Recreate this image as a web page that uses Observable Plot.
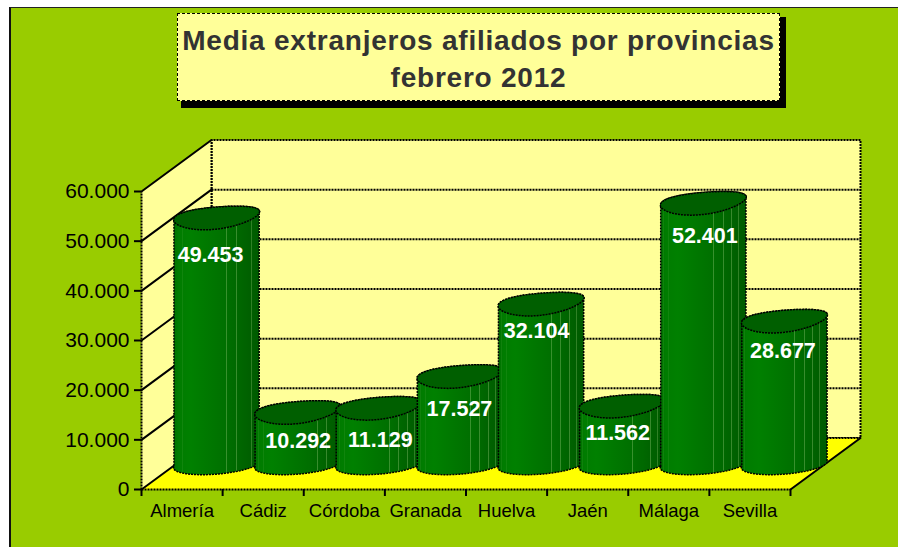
<!DOCTYPE html>
<html lang="es">
<head>
<meta charset="utf-8">
<script src="https://cdn.jsdelivr.net/npm/d3@7"></script>
<script src="https://cdn.jsdelivr.net/npm/@observablehq/plot@0.6"></script>
<style>
  html, body { margin: 0; padding: 0; background: #fff; }
  #page { position: relative; width: 898px; height: 547px; overflow: hidden; font-family: "Liberation Sans", Arial, sans-serif; }
  #panel { position: absolute; left: 9px; top: 6.5px; width: 900px; height: 560px; box-sizing: border-box; background: #99cc00; border-left: 2.5px solid #111; border-top: 1.5px solid #222; }
  #shadow { position: absolute; left: 181px; top: 17px; width: 605px; height: 91px; background: #000; }
  #title { position: absolute; left: 177px; top: 13px; width: 603px; height: 88px; box-sizing: border-box; background: #ffff99; border: 1.5px dashed #000;
           color: #333; font-weight: bold; font-size: 28px; line-height: 37px; text-align: center; padding-top: 8px; white-space: nowrap; letter-spacing: 0.77px; }
  #chart { position: absolute; left: 0; top: 0; }
  #chart svg { background: transparent; display: block; }
</style>
</head>
<body>
<div id="page">
  <div id="panel"></div>
  <div id="shadow"></div>
  <div id="title">Media extranjeros afiliados por provincias<br>febrero 2012</div>
  <div id="chart"></div>
</div>
<script>
const categories = ["Almería", "Cádiz", "Córdoba", "Granada", "Huelva", "Jaén", "Málaga", "Sevilla"];
const values = [49453, 10292, 11129, 17527, 32104, 11562, 52401, 28677];
const valueTicks = [0, 10000, 20000, 30000, 40000, 50000, 60000];
// small per-label nudges (px) of the value labels, as placed in the reference
const labelNudgeX = [-6.5, 0, 1, -1, -5, -5, 1, -2];
const labelNudgeY = [11.6, 3, 6, 7, 1.5, 1.4, 7, 4.4];

const width = 898, height = 547;
const margin = {left: 141, right: 108, top: 191, bottom: 58};
const unitX = (width - margin.left - margin.right) / categories.length; // px per category
const unitY = (height - margin.top - margin.bottom) / 60000;            // px per value unit
const depthX = 70 / unitX;      // depth of the box, in category units
const depthY = 51.5 / unitY;    // depth of the box, in value units

const esNumber = v => String(v).replace(/\B(?=(\d{3})+$)/g, ".");
const project = (x, y, depth = 0) => ({x: x + depth * depthX, y: y + depth * depthY});

const nCat = categories.length, yMax = 60000;
const leftWall = [project(0, 0), project(0, yMax), project(0, yMax, 1), project(0, 0, 1)];
const floor = [project(0, 0), project(nCat, 0), project(nCat, 0, 1), project(0, 0, 1)];
const backWall = [project(0, 0, 1), project(0, yMax, 1), project(nCat, yMax, 1), project(nCat, 0, 1)];

const steps = 48;
const sweep = (from, to) => d3.range(steps + 1).map(k => from + (to - from) * k / steps);
const ring = (i, value, t, upFn) => {
  const cx = i + 0.5 + depthX / 2;
  return {x: cx + (-0.5 + 42.6 * Math.cos(t) + 6 * Math.sin(t)) / unitX, y: value + depthY / 2 + upFn(t) / unitY};
};
const topUp = t => 1.25 + 1.25 * Math.cos(2 * t) + 11.5 * Math.sin(t) + 2.5 * Math.cos(t);
const baseUp = t => -0.75 + 10 * Math.sin(t) + 2 * Math.cos(t);
const capOutline = (i, v) => sweep(0, 2 * Math.PI).slice(0, -1).map(t => ring(i, v, t, topUp));
const bodyOutline = (i, v) => [
  ...sweep(Math.PI, 2 * Math.PI).map(t => ring(i, 0, t, baseUp)),
  ...sweep(0, Math.PI).map(t => ring(i, v, t, topUp))
];

const dash = "2,1";
const ink = "#000";

function gradient() {
  const g = document.createElementNS("http://www.w3.org/2000/svg", "g");
  const stripes = [[0.04, 0.1], [0.1, 0.1], [0.62, 0.35], [0.73, 0.35], [0.83, 0.35], [0.91, 0.3]];
  const base = [[0, "#007000"], [0.06, "#007c00"], [0.2, "#008000"], [0.4, "#007800"], [0.6, "#007000"], [0.75, "#006800"], [0.88, "#006000"], [1, "#005a00"]];
  const colorAt = d3.scaleLinear().domain(base.map(d => d[0])).range(base.map(d => d[1]));
  let stops = base.map(([o, c]) => [o, c]);
  for (const [s, a] of stripes) {
    const c = d3.interpolateRgb(colorAt(s), "#a0d080")(a);
    stops.push([s - 0.005, colorAt(s - 0.005)], [s - 0.005, c], [s + 0.005, c], [s + 0.005, colorAt(s + 0.005)]);
  }
  stops = stops.map((d, k) => [...d, k]).sort((a, b) => a[0] - b[0] || a[2] - b[2]);
  g.innerHTML = `<defs><linearGradient id="cyl" x1="0" x2="1" y1="0" y2="0">${stops.map(s => `<stop offset="${s[0]}" stop-color="${d3.color(s[1]).formatHex()}"/>`).join("")}</linearGradient></defs>`;
  return g;
}

const butt = {strokeLinecap: "butt", strokeLinejoin: "miter"};
const solidLine = (pts, extra = {}) => Plot.line(pts, {x: "x", y: "y", stroke: ink, strokeWidth: 2, ...extra});
const dashLine = (pts, extra = {}) => Plot.line(pts, {x: "x", y: "y", stroke: ink, strokeWidth: 2, strokeDasharray: dash, ...butt, ...extra});

const plot = Plot.plot({
  width, height,
  marginLeft: margin.left, marginRight: margin.right, marginTop: margin.top, marginBottom: margin.bottom,
  x: {domain: [0, nCat], axis: null},
  y: {domain: [0, yMax], axis: null},
  style: {fontFamily: "'Liberation Sans', Arial, sans-serif", background: "transparent", overflow: "visible"},
  marks: [
    gradient,
    Plot.line(backWall, {x: "x", y: "y", fill: "#ffff99", stroke: ink, strokeWidth: 2, strokeDasharray: dash, ...butt, curve: "linear-closed"}),
    Plot.line(leftWall, {x: "x", y: "y", fill: "#ffff99", curve: "linear-closed"}),
    ...valueTicks.filter(v => v > 0 && v < yMax).map(v => dashLine([project(0, v, 1), project(nCat, v, 1)])),
    ...valueTicks.filter(v => v > 0).map(v => solidLine([project(0, v), project(0, v, 1)])),
    dashLine([project(0, 0), project(0, yMax)]),
    dashLine([project(0, 0, 1), project(0, yMax, 1)]),
    Plot.line(floor, {x: "x", y: "y", fill: "#ffff00", curve: "linear-closed"}),
    solidLine([project(0, 0), project(0, 0, 1)]),
    solidLine([project(nCat, 0), project(nCat, 0, 1)]),
    dashLine([project(0, 0), project(nCat, 0)]),
    dashLine([project(0, 0, 1), project(nCat, 0, 1)]),
    Plot.axisY({ticks: valueTicks, tickSize: 7, tickPadding: 5, fontSize: 21, tickFormat: esNumber, label: null, strokeWidth: 2}),
    Plot.axisX({ticks: d3.range(0, nCat + 1), tickSize: 7, tickFormat: () => "", label: null, strokeWidth: 2}),
    Plot.axisX({ticks: categories.map((c, i) => i + 0.5), tickSize: 0, tickPadding: 14, fontSize: 18.5, tickFormat: d => categories[d - 0.5], label: null}),
    ...values.flatMap((v, i) => [
      Plot.line(bodyOutline(i, v), {x: "x", y: "y", fill: "url(#cyl)", stroke: ink, strokeWidth: 1.5, strokeDasharray: dash, ...butt, curve: "linear-closed"}),
      Plot.line(capOutline(i, v), {x: "x", y: "y", fill: "#005f00", stroke: ink, strokeWidth: 1.5, strokeDasharray: dash, ...butt, curve: "linear-closed"})
    ]),
    ...values.map((v, i) => Plot.text([v], {
      x: () => i + 0.5 + depthX / 2, y: d => d, text: esNumber,
      dx: labelNudgeX[i], dy: labelNudgeY[i],
      fill: "#fff", fontSize: 21.5, fontWeight: "bold"
    }))
  ]
});
document.getElementById("chart").append(plot);
</script>
</body>
</html>
